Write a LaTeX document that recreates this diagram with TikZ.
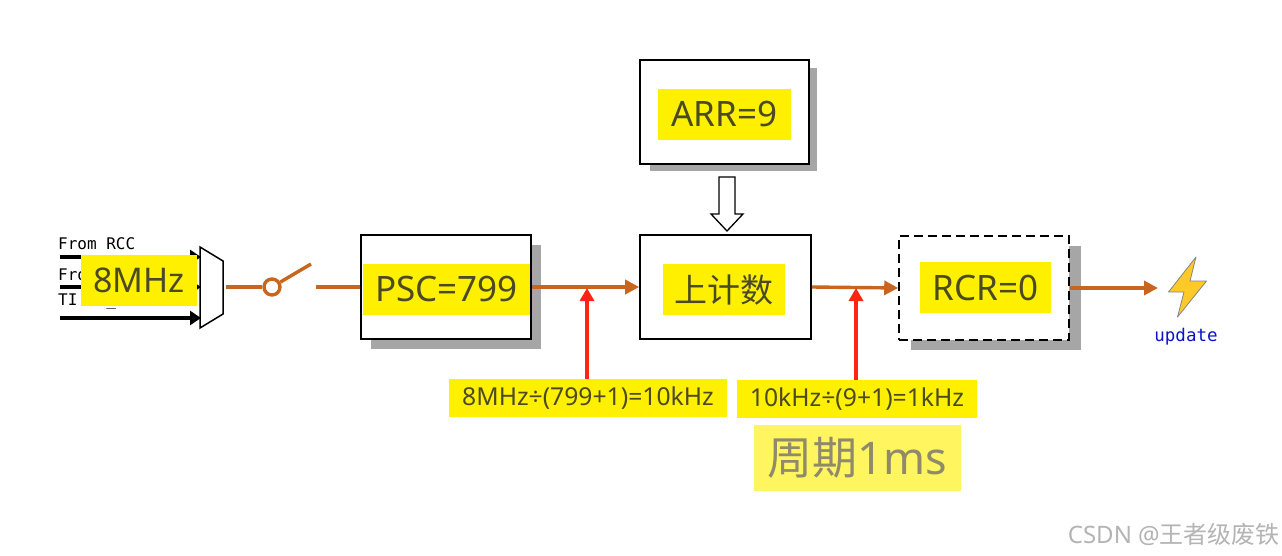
\documentclass[tikz,border=0pt]{standalone}
\usepackage{fontspec}
\setmainfont{Noto Sans}
\newfontfamily\cjkf{Noto Sans CJK SC}
\newfontfamily\monof{DejaVu Sans Mono}
\usetikzlibrary{arrows.meta}
\definecolor{hl}{HTML}{FFF000}
\definecolor{hlsoft}{HTML}{FFF55F}
\definecolor{ink}{HTML}{4C4A22}
\definecolor{inksoft}{HTML}{8F8B6A}
\definecolor{wire}{HTML}{C8651E}
\definecolor{shade}{HTML}{A6A6A6}
\definecolor{sig}{HTML}{FF2414}
\definecolor{upd}{HTML}{0A14C8}
\definecolor{wm}{HTML}{B4B4B4}
\definecolor{bolt}{HTML}{FFC928}
\tikzset{
  blockbox/.style={draw=black,line width=1.6pt,fill=white,inner sep=0pt,minimum width=170pt,minimum height=104pt},
  dashbox/.style={blockbox,dash pattern=on 9pt off 5pt},
  shadebox/.style={fill=shade},
  tag/.style={fill=hl,text=ink,inner sep=0pt},
  bigtag/.style={tag,font=\fontsize{35}{40}\selectfont,minimum height=51pt},
  smalltag/.style={tag,font=\fontsize{24.7}{28}\selectfont,minimum height=38pt},
  monotext/.style={font=\monof\fontsize{16}{18}\selectfont,inner sep=0pt,anchor=west},
  wireline/.style={draw=wire,line width=3.4pt},
  wirearrow/.style={wireline,-{Triangle[length=14pt,width=14pt]}},
  inarrow/.style={draw=black,line width=4.4pt,-{Triangle[length=11pt,width=14pt]}},
  sigarrow/.style={draw=sig,line width=4pt,-{Triangle[length=13pt,width=14pt]}},
}
\begin{document}
\begin{tikzpicture}[x=1pt,y=-1pt]
\useasboundingbox (0,0) rectangle (1282,556);
\fill[white] (0,0) rectangle (1282,556);
% shadows
\fill[shadebox] (650,68) rectangle (817,171);
\fill[shadebox] (371,245) rectangle (541,349);
\fill[shadebox] (911,246) rectangle (1081,350);
% blocks
\node[blockbox,minimum width=169pt] (arrbox) at (724.5,112) {};
\node[blockbox] (pscbox) at (446,287) {};
\node[blockbox,minimum width=171pt] (cntbox) at (725.5,287) {};
\node[dashbox] (rcrbox) at (984,288) {};
% hollow arrow
\draw[draw=black,line width=1.3pt,fill=white,line join=miter]
  (719,177) -- (735,177) -- (735,214) -- (743,214) -- (727,231) -- (711,214) -- (719,214) -- cycle;
% input wires
\node[monotext] (rcc) at (58,244) {From RCC};
\node[monotext] (fro) at (58,275) {From};
\node[monotext] (ti) at (58,301) {TI\phantom{123}\_};
\coordinate (in1s) at (60,257);
\coordinate (in2s) at (60,287);
\coordinate (in3s) at (60,318);
\coordinate (in1e) at (201,257);
\coordinate (in2e) at (201,287);
\coordinate (in3e) at (201,318);
\draw[inarrow] (in1s) -- (in1e);
\draw[inarrow] (in2s) -- (in2e);
\draw[inarrow] (in3s) -- (in3e);
% mux
\draw[fill=white,line width=1.5pt,line join=miter] (200,247) -- (223,261) -- (223,314) -- (200,328) -- cycle;
\coordinate (muxout) at (226,287);
% switch
\node[circle,draw=wire,line width=3.4pt,fill=white,minimum size=16pt,inner sep=0pt] (pivot) at (272,287) {};
\coordinate (lever) at (311,264);
\coordinate (swin) at (316,287);
\draw[wireline] (muxout) -- (pivot);
\draw[wireline] (pivot) -- (lever);
\draw[wireline] (swin) -- (pscbox.west);
% main wires
\draw[wirearrow] (pscbox.east) -- (cntbox.west);
\draw[wirearrow] (cntbox.east) -- (rcrbox.west);
\coordinate (updin) at (1158,288);
\draw[wirearrow] (rcrbox.east) -- (updin);
% yellow labels
\node[bigtag,minimum width=116pt,font=\fontsize{34}{40}\selectfont] (clk) at (139,280.5) {8MHz};
\node[bigtag,minimum width=167pt] (psc) at (446.5,289.5) {PSC=799};
\node[bigtag,minimum width=122pt] (cnt) at (724,289.5) {\cjkf\fontsize{33}{38}\selectfont 上计数};
\node[bigtag,minimum width=131pt] (rcr) at (985.5,287.5) {RCR=0};
\node[bigtag,minimum width=133pt] (arr) at (724.5,114.5) {ARR=9};
\node[smalltag,minimum width=278pt] (calca) at (588,398) {8MHz÷(799+1)=10kHz};
\node[smalltag,minimum width=240pt] (calcb) at (857,399) {10kHz÷(9+1)=1kHz};
\node[fill=hlsoft,text=inksoft,inner sep=0pt,minimum width=207pt,minimum height=66pt,font=\fontsize{45}{50}\selectfont] (period) at (857.5,458) {{\cjkf 周期}1ms};
% red arrows
\coordinate (hita) at (587,288);
\coordinate (hitb) at (856,288);
\draw[sigarrow] (calca.north -| hita) -- (hita);
\draw[sigarrow] (calcb.north -| hitb) -- (hitb);
% update
\draw[draw=shade!80!black,line width=.8pt,fill=bolt,line join=round] (1196,257) -- (1168.5,292) -- (1184,292) -- (1177.5,317) -- (1206.5,281) -- (1190,281) -- cycle;
\node[font=\monof\fontsize{17.5}{20}\selectfont,text=upd,inner sep=0pt] (update) at (1186,337) {update};
% watermark
\node[font=\fontsize{24}{28}\selectfont,text=wm,inner sep=0pt,anchor=east] (mark) at (1280,534) {CSDN @{\cjkf 王者级废铁}};
\end{tikzpicture}
\end{document}
